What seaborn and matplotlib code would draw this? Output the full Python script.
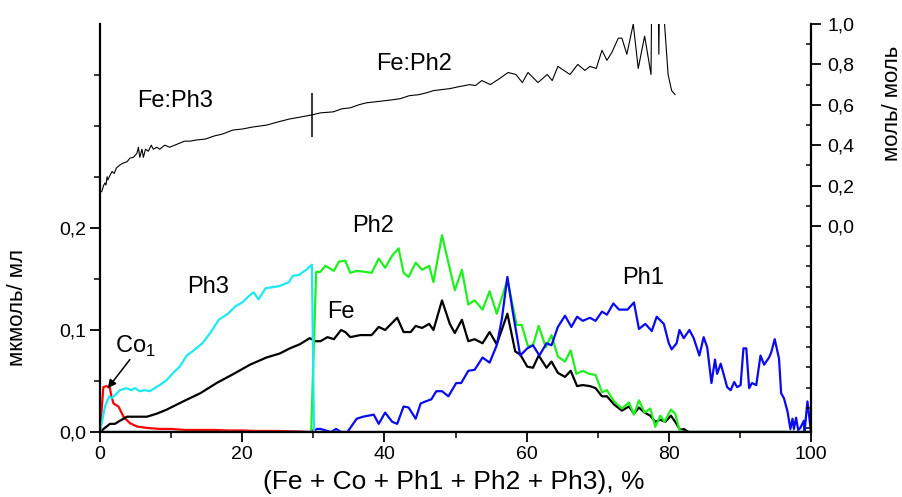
import numpy as np
import pandas as pd
import matplotlib
matplotlib.use('Agg')
import matplotlib.pyplot as plt
import seaborn as sns

# Fe:Ph molar ratio (right axis)
ratio_x = [0, 0.24, 0.5, 0.7, 0.84, 1.0, 1.1, 1.4, 1.7, 2.0,
           2.3, 2.8, 3.3, 3.8, 4.2, 4.7, 5.2, 5.4, 5.6, 5.9,
           6.1, 6.4, 6.8, 7.2, 7.5, 8.0, 8.4, 9.1, 9.8, 10.5,
           11.2, 11.9, 12.7, 13.6, 14.8, 16.0, 17.2, 18.7, 20.0, 21.5,
           23.5, 25.0, 26.7, 28.3, 29.8, 31.0, 32.8, 34.0, 35.2, 36.4,
           37.5, 38.8, 40.0, 41.2, 42.2, 43.5, 44.8, 46.0, 46.9, 48.0,
           49.2, 50.5, 51.3, 52.0, 52.8, 53.7, 54.9, 56.2, 57.4, 58.5,
           59.4, 60.2, 61.6, 62.9, 63.6, 64.4, 66.1, 67.2, 68.2, 68.9,
           69.8, 70.6, 71.3, 72.0, 72.9, 73.4, 74.1, 75.0, 75.7, 76.6,
           77.5, 77.6, 78.5, 78.6, 78.7, 79.2, 79.9, 80.4, 80.9]
ratio_y = [0.168, 0.170, 0.20, 0.213, 0.203, 0.244, 0.228, 0.25, 0.27, 0.26,
           0.287, 0.302, 0.312, 0.318, 0.336, 0.34, 0.36, 0.39, 0.34, 0.38,
           0.34, 0.38, 0.37, 0.40, 0.38, 0.39, 0.38, 0.40, 0.39, 0.40,
           0.41, 0.42, 0.42, 0.426, 0.43, 0.445, 0.455, 0.475, 0.48, 0.49,
           0.50, 0.515, 0.53, 0.54, 0.55, 0.56, 0.565, 0.58, 0.585, 0.60,
           0.61, 0.615, 0.62, 0.625, 0.63, 0.645, 0.65, 0.66, 0.67, 0.675,
           0.68, 0.69, 0.695, 0.70, 0.695, 0.72, 0.70, 0.73, 0.76, 0.75,
           0.71, 0.76, 0.71, 0.75, 0.72, 0.79, 0.75, 0.80, 0.77, 0.79,
           0.78, 0.87, 0.82, 0.86, 0.93, 0.93, 0.85, 1.0, 0.78, 0.94,
           0.75, 1.15, 1.15, 0.85, 1.15, 1.1, 0.75, 0.67, 0.65]
divider_x = 29.8
divider_span = [0.44, 0.66]

# concentrations, мкмоль/мл (left axis)
co_x = [0, 0.47, 0.94, 1.4, 1.6, 1.9, 2.6, 3.3, 4.2, 5.2,
        6.6, 8.4, 10.0, 12.0, 14.0, 16.0, 18.0, 20.0, 22.0, 25.0,
        28.0, 29.5, 30.0, 30.4, 35.0, 81.5, 82.0, 82.5, 100]
co_y = [0, 0.044, 0.045, 0.043, 0.035, 0.028, 0.025, 0.015, 0.0087, 0.0054,
        0.004, 0.003, 0.003, 0.002, 0.002, 0.002, 0.0015, 0.0015, 0.001, 0.001,
        0.0005, 0, 0.002, 0, 0, 0, 0.002, 0, 0]

ph3_x = [0, 0.7, 1.3, 1.6, 2.1, 2.8, 3.7, 4.4, 4.9, 5.6,
         6.3, 7.0, 7.7, 8.4, 9.4, 10.3, 11.2, 12.2, 13.0, 14.4,
         15.5, 16.7, 18.0, 19.0, 20.0, 20.9, 21.6, 22.3, 23.3, 24.3,
         25.2, 26.6, 27.1, 28.0, 29.0, 29.8, 30.1, 100]
ph3_y = [0, 0.025, 0.035, 0.033, 0.036, 0.041, 0.043, 0.041, 0.043, 0.040,
         0.041, 0.040, 0.043, 0.046, 0.051, 0.058, 0.064, 0.075, 0.079, 0.087,
         0.097, 0.11, 0.116, 0.123, 0.127, 0.133, 0.137, 0.13, 0.141, 0.142,
         0.143, 0.147, 0.153, 0.154, 0.159, 0.164, 0, 0]

fe_x = [0, 0.5, 1.4, 2.1, 2.8, 3.8, 5.0, 6.6, 8.0, 9.4,
        11.7, 14.1, 16.4, 18.8, 21.1, 23.4, 25.3, 26.7, 28.1, 29.5,
        30.3, 31.0, 32.0, 32.9, 33.9, 34.5, 35.2, 36.6, 38.2, 39.2,
        40.1, 41.8, 42.7, 43.7, 44.4, 45.3, 46.3, 46.9, 48.1, 49.2,
        49.9, 50.9, 51.8, 52.7, 53.8, 54.8, 55.8, 57.3, 58.4, 59.1,
        60.1, 60.9, 61.7, 62.8, 63.5, 64.4, 65.4, 66.2, 67.1, 67.9,
        68.9, 69.7, 70.6, 71.3, 72.3, 73.4, 74.4, 75.1, 75.8, 76.6,
        77.4, 78.1, 78.8, 79.5, 80.3, 80.9, 81.6, 82.1, 82.8, 100]
fe_y = [0, 0.003, 0.008, 0.008, 0.011, 0.015, 0.015, 0.015, 0.018, 0.022,
        0.030, 0.038, 0.048, 0.057, 0.066, 0.073, 0.077, 0.082, 0.086, 0.092,
        0.089, 0.089, 0.093, 0.091, 0.100, 0.098, 0.093, 0.095, 0.095, 0.103,
        0.100, 0.112, 0.098, 0.098, 0.104, 0.102, 0.106, 0.100, 0.129, 0.106,
        0.097, 0.110, 0.089, 0.091, 0.087, 0.098, 0.086, 0.116, 0.079, 0.076,
        0.064, 0.063, 0.075, 0.063, 0.069, 0.058, 0.054, 0.060, 0.045, 0.046,
        0.045, 0.043, 0.035, 0.035, 0.027, 0.021, 0.025, 0.018, 0.024, 0.019,
        0.016, 0.010, 0.012, 0.010, 0.016, 0.010, 0.002, 0.003, 0, 0]

ph2_x = [0, 29.7, 30.4, 31.0, 31.7, 32.9, 33.6, 34.5, 35.2, 36.1,
         37.3, 38.2, 39.2, 40.1, 41.1, 42.0, 42.7, 43.4, 44.4, 45.3,
         46.3, 46.9, 48.1, 49.2, 49.9, 50.9, 51.8, 52.7, 53.8, 54.8,
         55.8, 57.3, 58.6, 59.3, 60.2, 60.9, 61.7, 62.7, 63.5, 64.4,
         65.4, 66.2, 67.0, 67.9, 68.8, 69.7, 70.6, 71.3, 72.3, 73.4,
         74.4, 75.1, 75.8, 76.6, 77.4, 78.1, 78.8, 79.4, 80.3, 80.9,
         81.5, 82.0, 100]
ph2_y = [0, 0, 0.157, 0.157, 0.163, 0.158, 0.167, 0.168, 0.156, 0.158,
         0.157, 0.156, 0.170, 0.161, 0.173, 0.180, 0.156, 0.152, 0.166, 0.159,
         0.163, 0.147, 0.193, 0.160, 0.139, 0.159, 0.125, 0.129, 0.120, 0.138,
         0.116, 0.149, 0.105, 0.105, 0.084, 0.085, 0.104, 0.083, 0.095, 0.074,
         0.069, 0.080, 0.057, 0.060, 0.057, 0.056, 0.039, 0.041, 0.030, 0.023,
         0.029, 0.017, 0.031, 0.019, 0.023, 0.005, 0.016, 0.010, 0.022, 0.018,
         0.002, 0, 0]

ph1_x = [0, 30.0, 30.5, 31.0, 32.5, 33.2, 33.9, 34.8, 36.1, 37.0,
         38.5, 39.2, 40.1, 41.1, 41.8, 42.7, 43.4, 44.4, 45.1, 45.8,
         46.6, 47.3, 48.1, 49.0, 50.1, 50.8, 51.8, 52.7, 53.8, 54.8,
         55.8, 56.5, 57.3, 58.1, 59.1, 60.1, 60.9, 61.8, 62.8, 63.5,
         64.4, 65.4, 66.3, 67.1, 67.9, 68.9, 69.7, 70.6, 71.3, 72.2,
         73.0, 74.2, 75.1, 75.8, 76.7, 77.6, 78.3, 79.3, 80.0, 80.4,
         81.1, 81.5, 82.1, 82.9, 83.5, 84.3, 84.9, 85.4, 86.0, 86.5,
         86.8, 87.3, 87.7, 88.2, 88.7, 89.2, 89.6, 90.1, 90.5, 90.9,
         91.3, 91.7, 92.3, 92.9, 93.4, 94.1, 94.4, 94.9, 95.5, 95.8,
         96.2, 96.7, 97.1, 97.4, 97.6, 97.9, 98.2, 98.5, 99.0, 99.1,
         99.5, 100]
ph1_y = [0, 0, 0.003, 0.003, 0, 0.003, 0, 0, 0.013, 0.015,
         0.017, 0.008, 0.019, 0.010, 0.008, 0.025, 0.024, 0.013, 0.028, 0.030,
         0.032, 0.040, 0.040, 0.035, 0.048, 0.048, 0.060, 0.061, 0.073, 0.068,
         0.085, 0.110, 0.152, 0.116, 0.075, 0.082, 0.085, 0.075, 0.087, 0.085,
         0.103, 0.114, 0.103, 0.113, 0.109, 0.112, 0.109, 0.118, 0.115, 0.126,
         0.120, 0.120, 0.127, 0.101, 0.106, 0.099, 0.113, 0.106, 0.087, 0.081,
         0.087, 0.100, 0.092, 0.100, 0.092, 0.075, 0.093, 0.083, 0.048, 0.071,
         0.057, 0.067, 0.057, 0.044, 0.041, 0.049, 0.044, 0.046, 0.082, 0.082,
         0.043, 0.048, 0.046, 0.075, 0.066, 0.073, 0.078, 0.091, 0.072, 0.038,
         0.033, 0.020, 0.003, 0.013, 0.003, 0.014, 0.002, 0.004, 0.011, 0.001,
         0.030, 0]

x_ticks = [0, 20, 40, 60, 80, 100]
x_tick_labels = ['0', '20', '40', '60', '80', '100']
left_ticks = [0, 0.1, 0.2]
left_tick_labels = ['0,0', '0,1', '0,2']
right_ticks = [0, 0.2, 0.4, 0.6, 0.8, 1.0]
right_tick_labels = ['0,0', '0,2', '0,4', '0,6', '0,8', '1,0']
right_inner_ticks = [-1.0, -0.9, -0.8, -0.7, -0.6, -0.5, -0.4, -0.3, -0.2, -0.1,
                     0.1, 0.3, 0.5, 0.7, 0.9]

sns.set_theme(style='ticks')
plt.rcParams['font.family'] = ['Liberation Sans', 'DejaVu Sans']
plt.rcParams['axes.linewidth'] = 1.6
for k in ('text.color', 'axes.labelcolor', 'xtick.color', 'ytick.color',
          'axes.edgecolor'):
    plt.rcParams[k] = 'black'

fig = plt.figure(figsize=(9.02, 4.97), dpi=100)
ax = fig.add_axes([100/902, 65/497, 711/902, 408/497])
ax2 = ax.twinx()

lw = 1.6
series = [(co_x, co_y, '#ff0000'), (fe_x, fe_y, 'black'), (ph2_x, ph2_y, '#1ef01e'),
          (ph1_x, ph1_y, '#0a0af0'), (ph3_x, ph3_y, '#1de9f5')]
for xs, ys, c in series:
    sns.lineplot(x=xs, y=ys, ax=ax, color=c, linewidth=lw, estimator=None,
                 sort=False, legend=False)

sns.lineplot(x=ratio_x, y=ratio_y, ax=ax2, color='black', linewidth=0.8,
             estimator=None, sort=False, legend=False)
ax2.vlines(divider_x, divider_span[0], divider_span[1], color='black', lw=1.1)

ax.set_xlim(0, 100)
ax.set_ylim(0, 0.4)
ax2.set_ylim(-1.02, 1.0)

ax.set_xticks(x_ticks)
ax.set_xticklabels(x_tick_labels)
ax.set_xticks([10, 30, 50, 70, 90], minor=True)
ax.set_yticks(left_ticks)
ax.set_yticklabels(left_tick_labels)
ax.set_yticks([0.05, 0.15, 0.25, 0.3, 0.35], minor=True)
ax.tick_params(which='major', direction='out', length=7, width=1.3, labelsize=14,
               pad=3)
ax.tick_params(which='minor', direction='out', length=4, width=1.1)
ax.tick_params(axis='y', which='both', left=True, right=False)
ax.tick_params(axis='x', which='both', bottom=True, top=False)

ax2.set_yticks(right_ticks)
ax2.set_yticklabels(right_tick_labels)
ax2.set_yticks(right_inner_ticks, minor=True)
ax2.tick_params(which='major', direction='out', length=7, width=1.3, labelsize=14, pad=5)
ax2.tick_params(which='minor', direction='in', length=3.5, width=1.1)

for a in (ax, ax2):
    a.grid(False)
    a.spines['top'].set_visible(False)
ax.spines['right'].set_visible(False)
ax2.spines['left'].set_visible(False)
ax2.spines['bottom'].set_visible(False)

# labels on the curves
tkw = dict(fontsize=17, va='baseline', ha='left')
ax.text(5.2, 0.319, 'Fe:Ph3', **tkw)
ax.text(38.8, 0.355, 'Fe:Ph2', **tkw)
ax.text(35.4, 0.196, 'Ph2', **tkw)
ax.text(12.2, 0.136, 'Ph3', **tkw)
ax.text(31.9, 0.112, 'Fe', **tkw)
ax.text(73.4, 0.145, 'Ph1', **tkw)
ax.text(2.1, 0.078, r'Co$_{\mathregular{1}}$', **tkw)
ax.annotate('', xy=(1.1, 0.043), xytext=(4.2, 0.071),
            arrowprops=dict(arrowstyle='-|>', color='black', lw=1.1,
                            mutation_scale=12, shrinkA=0, shrinkB=0))

fig.text(454/902, 1 - 482/497, '(Fe + Co + Ph1 + Ph2 + Ph3), %', fontsize=19,
         ha='center', va='center')
fig.text(18/902, 1 - 308/497, 'мкмоль/ мл', fontsize=16, rotation=90,
         ha='center', va='center')
fig.text(892/902, 1 - 103/497, 'моль/ моль', fontsize=16, rotation=90,
         ha='center', va='center')

fig.savefig('out.png', dpi=100)
